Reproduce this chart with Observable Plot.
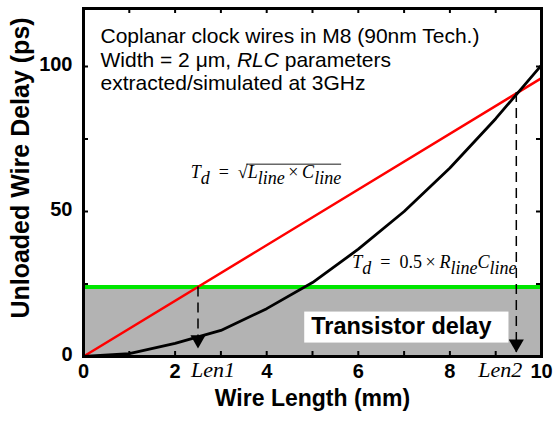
<!DOCTYPE html>
<html><head><meta charset="utf-8">
<script src="https://cdn.jsdelivr.net/npm/d3@7"></script>
<script src="https://cdn.jsdelivr.net/npm/@observablehq/plot@0.6"></script>
<style>body{margin:0;background:#fff} svg{display:block}</style>
</head><body>
<script>
// ---- data ----
const wireLength = [0, 1, 2, 3, 4, 5, 6, 7, 8, 9, 10];
const rcDelay = [0, 1, 4.5, 9, 16.5, 25.5, 37, 50, 65, 82, 100.5];
const lcLength = [0, 10];
const lcDelay = [0, 96];
const transistorDelay = 24;
const xDomain = [0, 10];
const yDomain = [0, 120];
const xMajorTicks = [0, 2, 4, 6, 8, 10];
const xMinorTicks = [1, 3, 5, 7, 9];
const yMajorTicks = [0, 50, 100];
const yMinorTicks = [25, 75];
const lenNames = ["Len1", "Len2"];
const lenValues = [2.5, 9.45];
const arrowFrom = [24, 91];
const arrowTo = [2.8, 1.4];
const noteLines = ["Coplanar clock wires in M8 (90nm Tech.)", "Width = 2 μm, RLC parameters", "extracted/simulated at 3GHz"];
const xLabel = "Wire Length (mm)";
const yLabel = "Unloaded Wire Delay (ps)";
const boxLabel = "Transistor delay";
const formulaLC = "Td = √Lline\u2009×\u2009Cline";
const formulaRC = "Td = 0.5\u2009×\u2009RlineCline";

// rich-text segments (i = italic, s = subscript, o = under radical bar)
const rich = {
  [formulaLC]: [["T","i"],["d","is"],["\u2002=\u2002",""],["√",""],["L","io"],["line","iso"],["\u2009×\u2009","o"],["C","io"],["line","iso"]],
  [formulaRC]: [["T","i"],["d","is"],["\u2002=\u2002",""],["0.5\u2009×\u2009",""],["R","i"],["line","is"],["C","i"],["line","is"]],
  [noteLines[1]]: [["Width = 2 μm, ",""],["RLC","i"],[" parameters",""]]
};

const rcRows = wireLength.map((x, i) => ({x, y: rcDelay[i]}));
const lcRows = lcLength.map((x, i) => ({x, y: lcDelay[i]}));
const arrows = lenValues.map((x, i) => ({name: lenNames[i], x, from: arrowFrom[i], to: arrowTo[i]}));
const allXTicks = xMajorTicks.concat(xMinorTicks);
const allYTicks = yMajorTicks.concat(yMinorTicks);

const sans = "'Liberation Sans', Arial, sans-serif";
const serif = "'Liberation Serif', 'Times New Roman', serif";

// layout
const W = 553, H = 422, mL = 83, mR = 12, mT = 8, mB = 66;
const TL = 5; // inward tick length in px
const tickLenY = TL * (yDomain[1] - yDomain[0]) / (H - mT - mB);
const tickLenX = TL * (xDomain[1] - xDomain[0]) / (W - mL - mR);

// downward triangle with its tip at the anchor point
const tipDown = {
  draw(ctx, size) {
    const y = Math.sqrt(size / (3 * Math.sqrt(3)));
    const w = Math.sqrt(3) * y;
    ctx.moveTo(0, 0);
    ctx.lineTo(-w, -3 * y);
    ctx.lineTo(w, -3 * y);
    ctx.closePath();
  }
};
const tickOpts = {stroke: "black", strokeWidth: 2};

const chart = Plot.plot({
  width: W, height: H,
  marginLeft: mL, marginRight: mR, marginTop: mT, marginBottom: mB,
  x: {domain: xDomain, label: null},
  y: {domain: yDomain, label: null},
  style: {fontFamily: sans, background: "white", overflow: "visible", color: "black"},
  marks: [
    Plot.areaY(xDomain, {x: d => d, y: () => transistorDelay, fill: "#b3b3b3"}),
    Plot.ruleY([transistorDelay], {stroke: "#00e600", strokeWidth: 4}),
    Plot.line(lcRows, {x: "x", y: "y", stroke: "#ff0000", strokeWidth: 2.5}),
    Plot.line(rcRows, {x: "x", y: "y", stroke: "black", strokeWidth: 2.8}),
    Plot.ruleX(arrows, {x: "x", y1: "from", y2: "to", stroke: "black", strokeWidth: 1.5, strokeDasharray: "10,6"}),
    Plot.dot(arrows, {x: "x", y: "to", symbol: tipDown, r: 5.6, fill: "black", stroke: null}),
    Plot.frame({stroke: "black", strokeWidth: 3}),
    // inward ticks on all four sides
    Plot.ruleX(allXTicks, {x: d => d, y1: () => yDomain[0], y2: () => yDomain[0] + tickLenY, ...tickOpts}),
    Plot.ruleX(allXTicks, {x: d => d, y1: () => yDomain[1] - tickLenY, y2: () => yDomain[1], ...tickOpts}),
    Plot.ruleY(allYTicks, {y: d => d, x1: () => xDomain[0], x2: () => xDomain[0] + tickLenX, ...tickOpts}),
    Plot.ruleY(allYTicks, {y: d => d, x1: () => xDomain[1] - tickLenX, x2: () => xDomain[1], ...tickOpts}),
    // tick labels
    Plot.axisX(xMajorTicks, {anchor: "bottom", tickSize: 0, tickPadding: 7, fontSize: 20, fontWeight: "bold", label: null}),
    Plot.axisY(yMajorTicks, {anchor: "left", tickSize: 0, tickPadding: 11, dy: -2, fontSize: 20, fontWeight: "bold", label: null}),
    // axis titles
    Plot.text([xLabel], {text: d => d, frameAnchor: "bottom", dy: 49.5, fontSize: 23, fontWeight: "bold"}),
    Plot.text([yLabel], {text: d => d, y: () => 65, frameAnchor: "left", textAnchor: "middle", rotate: -90, dx: -63, fontSize: 25, fontWeight: "bold"}),
    // Len labels
    Plot.text([arrows[0]], {x: "x", text: "name", frameAnchor: "bottom", dy: 20, dx: 15, fontFamily: serif, fontStyle: "italic", fontSize: 22}),
    Plot.text([arrows[1]], {x: "x", text: "name", frameAnchor: "bottom", dy: 20, dx: -16, fontFamily: serif, fontStyle: "italic", fontSize: 22}),
    // notes
    Plot.text([noteLines.join("\n")], {text: d => d, frameAnchor: "top-left", dx: 17, dy: 18, textAnchor: "start", lineAnchor: "top", fontSize: 21, lineHeight: 1.12}),
    Plot.text([formulaLC], {text: d => d, x: () => 2.34, y: () => 63.6, textAnchor: "start", fontFamily: serif, fontSize: 18}),
    Plot.text([formulaRC], {text: d => d, x: () => 5.87, y: () => 32.6, textAnchor: "start", fontFamily: serif, fontSize: 18}),
    Plot.text([boxLabel], {text: d => d, x: () => 6.94, y: () => 10.5, fontSize: 23.5, fontWeight: "bold"})
  ]
});
document.body.append(chart);

// ---- rich text post-processing ----
const NS = "http://www.w3.org/2000/svg";
const over = [];
chart.querySelectorAll("text, tspan").forEach(el => {
  if (el.childElementCount) return;
  const segs = rich[el.textContent];
  if (!segs) return;
  el.textContent = "";
  const fs = parseFloat(getComputedStyle(el).fontSize) || 18;
  const shift = Math.round(fs * 0.36);
  let lowered = false;
  const record = {text: el.closest("text"), sqrt: null, parts: [], fs};
  segs.forEach(([t, f]) => {
    const ts = document.createElementNS(NS, "tspan");
    ts.textContent = t;
    if (f.includes("i")) ts.setAttribute("font-style", "italic");
    const sub = f.includes("s");
    if (sub && !lowered) { ts.setAttribute("dy", shift); lowered = true; }
    else if (!sub && lowered) { ts.setAttribute("dy", -shift); lowered = false; }
    el.appendChild(ts);
    if (t === "√") record.sqrt = ts;
    if (f.includes("o")) record.parts.push(ts);
  });
  if (record.sqrt && record.parts.length) over.push(record);
});
over.forEach(({text, sqrt, parts, fs}) => {
  const sb = sqrt.getBBox();
  let x2 = -Infinity;
  parts.forEach(p => { const b = p.getBBox(); x2 = Math.max(x2, b.x + b.width); });
  const line = document.createElementNS(NS, "line");
  const y = sb.y + 0.13 * fs;
  line.setAttribute("x1", sb.x + sb.width - 1.5);
  line.setAttribute("x2", x2);
  line.setAttribute("y1", y);
  line.setAttribute("y2", y);
  line.setAttribute("stroke", "black");
  line.setAttribute("stroke-width", 0.9);
  const tr = text.getAttribute("transform");
  if (tr) line.setAttribute("transform", tr);
  text.parentNode.appendChild(line);
});
// white box behind the transistor delay label
chart.querySelectorAll("text").forEach(el => {
  if (el.textContent !== boxLabel) return;
  const b = el.getBBox();
  const rect = document.createElementNS(NS, "rect");
  rect.setAttribute("x", b.x - 7);
  rect.setAttribute("y", b.y - 1);
  rect.setAttribute("width", b.width + 24);
  rect.setAttribute("height", b.height + 5);
  rect.setAttribute("fill", "white");
  const tr = el.getAttribute("transform");
  if (tr) rect.setAttribute("transform", tr);
  el.parentNode.insertBefore(rect, el);
});
</script>
</body></html>
